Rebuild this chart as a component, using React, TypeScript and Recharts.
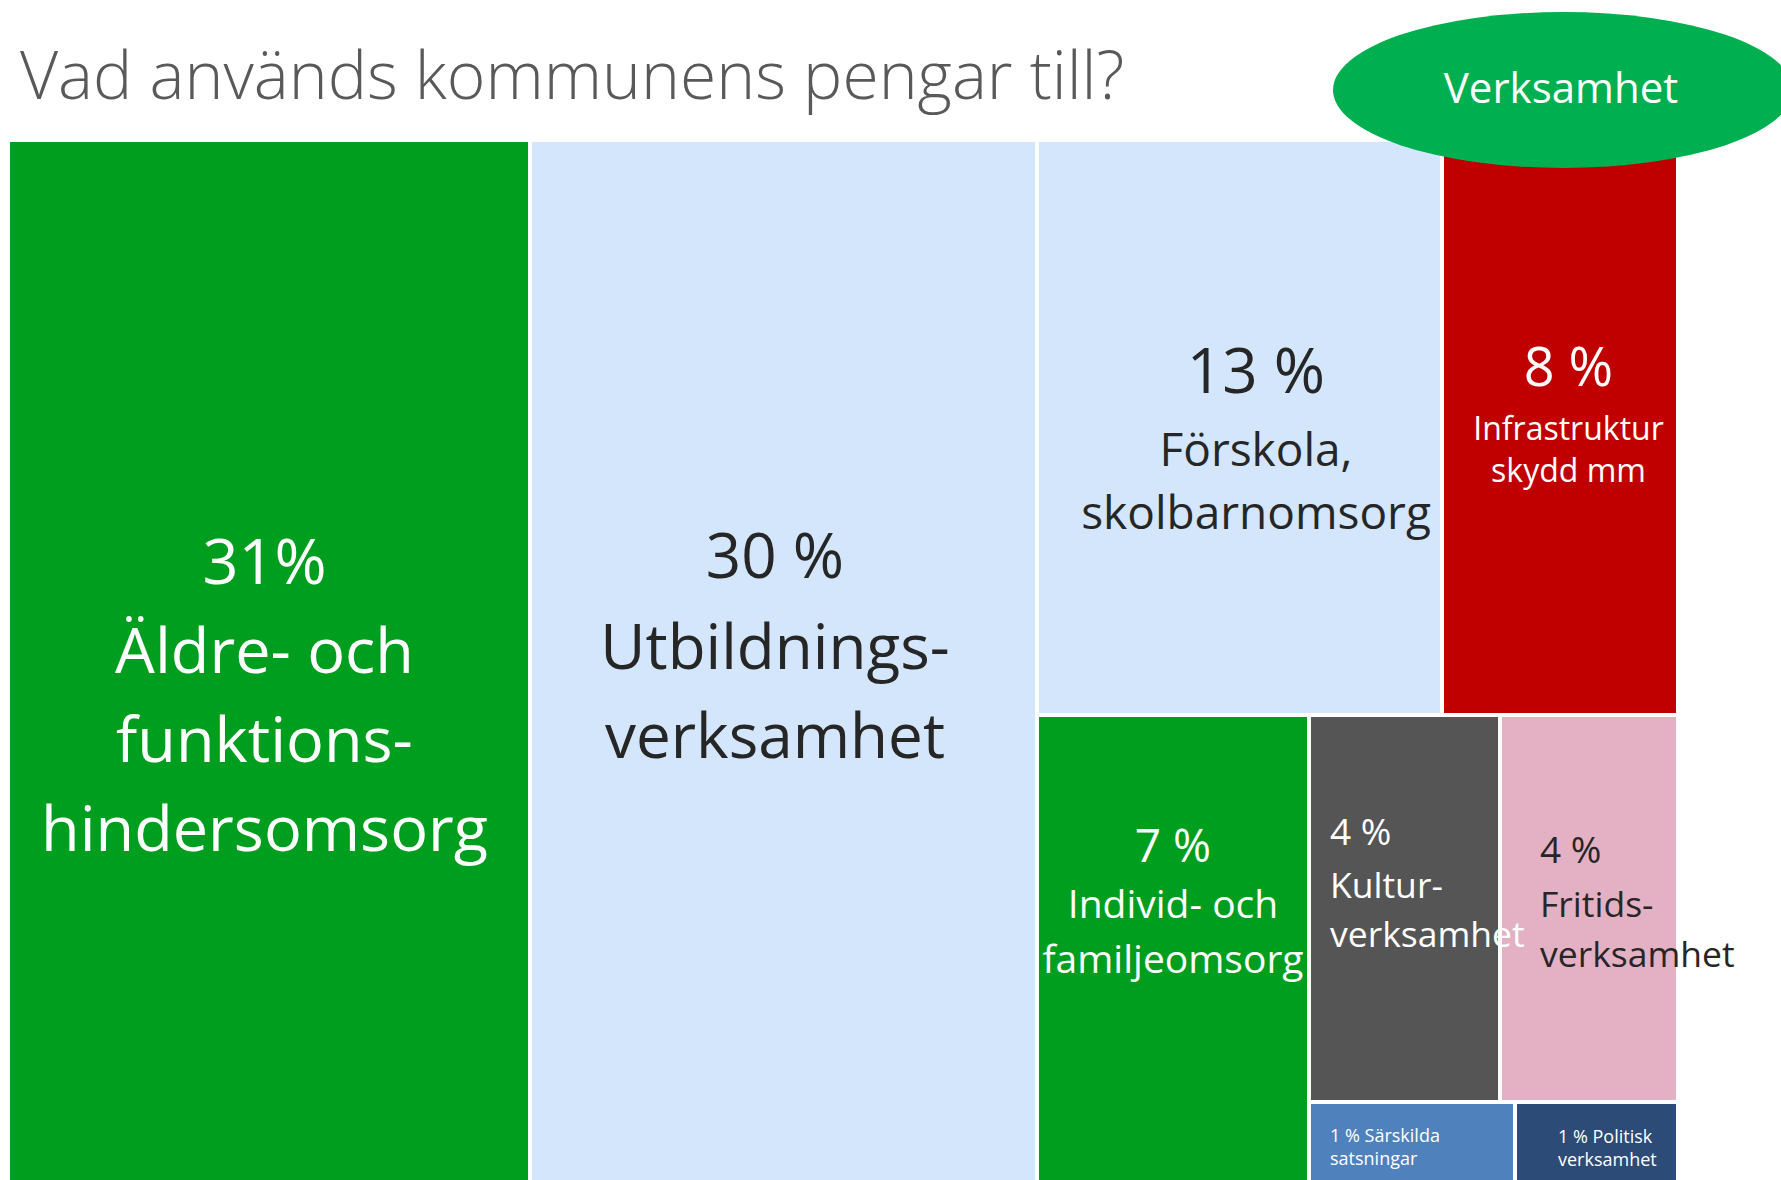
import { Treemap } from 'recharts';

// one entry per cell, in drawing order
const names = ['Äldre', 'Utbildning', 'Förskola', 'Infrastruktur', 'Individ', 'Kultur', 'Fritids', 'Särskilda', 'Politisk'];
const pctLabels = ['31%', '30 %', '13 %', '8 %', '7 %', '4 %', '4 %', '1 %', '1 %'];
// shares behind the cell areas (labels above are rounded)
const shares = [31.3, 30.4, 13.4, 7.8, 7.3, 4.25, 3.95, 0.95, 0.75];
const textLines = [
  ['Äldre- och', 'funktions-', 'hindersomsorg'],
  ['Utbildnings-', 'verksamhet'],
  ['Förskola,', 'skolbarnomsorg'],
  ['Infrastruktur', 'skydd mm'],
  ['Individ- och', 'familjeomsorg'],
  ['Kultur-', 'verksamhet'],
  ['Fritids-', 'verksamhet'],
  ['Särskilda', 'satsningar'],
  ['Politisk', 'verksamhet'],
];
const colors = ['#009e1f', '#d3e6fc', '#d3e6fc', '#c00000', '#009e1f', '#555555', '#e3b1c3', '#4f81bd', '#2c4b76'];

const leaf = (i: number) => ({ name: names[i], value: shares[i], idx: i });

const treeData = [
  leaf(0),
  {
    name: 'rest',
    children: [
      leaf(1),
      {
        name: 'right',
        children: [
          { name: 'top', children: [leaf(2), leaf(3)] },
          {
            name: 'bottom',
            children: [
              leaf(4),
              {
                name: 'small',
                children: [
                  { name: 'kf', children: [leaf(5), leaf(6)] },
                  { name: 'sp', children: [leaf(7), leaf(8)] },
                ],
              },
            ],
          },
        ],
      },
    ],
  },
];

const WHITE = '#ffffff';
const DARK = '#262626';
const FONT = "'Open Sans', 'Noto Sans', sans-serif";

type LabelStyle = {
  anchor: 'middle' | 'start';
  dx: number;
  top: number;
  pct: number;
  size: number;
  gap: number;
  lh: number;
  fill: string;
  inline?: boolean;
};

const labelStyles: LabelStyle[] = [
  { anchor: 'middle', dx: -4.5, top: 444, pct: 63, size: 63, gap: 89, lh: 89, fill: WHITE },
  { anchor: 'middle', dx: -8.5, top: 438, pct: 62, size: 62, gap: 91, lh: 89, fill: DARK },
  { anchor: 'middle', dx: 16.5, top: 253, pct: 62, size: 46, gap: 73, lh: 63, fill: DARK },
  { anchor: 'middle', dx: 8.5, top: 246, pct: 54, size: 32, gap: 54, lh: 42, fill: WHITE },
  { anchor: 'middle', dx: 0, top: 147, pct: 46, size: 39, gap: 56, lh: 55, fill: WHITE },
  { anchor: 'start', dx: 21, top: 130, pct: 37, size: 35.5, gap: 53, lh: 49, fill: WHITE },
  { anchor: 'start', dx: 40, top: 148, pct: 37, size: 35.5, gap: 54, lh: 50, fill: DARK },
  { anchor: 'start', dx: 21, top: 40, pct: 18, size: 18, gap: 0, lh: 23, fill: WHITE, inline: true },
  { anchor: 'start', dx: 43, top: 41, pct: 18, size: 18, gap: 0, lh: 23, fill: WHITE, inline: true },
];

function CellRect(props: any) {
  const { x, y, width, height, idx } = props;
  if (idx === undefined || (props.children && props.children.length)) return null;
  return <rect x={x} y={y} width={width} height={height} fill={colors[idx]} stroke={WHITE} strokeWidth={4} />;
}

function CellLabel(props: any) {
  const { x, y, width, idx } = props;
  if (idx === undefined || (props.children && props.children.length)) return null;
  const s = labelStyles[idx];
  const tx = s.anchor === 'middle' ? x + width / 2 + s.dx : x + s.dx;
  const lines = textLines[idx];
  if (s.inline) {
    return (
      <g fontFamily={FONT} fill={s.fill} textAnchor={s.anchor}>
        <text x={tx} y={y + s.top} fontSize={s.size}>{`${pctLabels[idx]} ${lines[0]}`}</text>
        {lines.slice(1).map((t, i) => (
          <text key={t} x={tx} y={y + s.top + (i + 1) * s.lh} fontSize={s.size}>{t}</text>
        ))}
      </g>
    );
  }
  return (
    <g fontFamily={FONT} fill={s.fill} textAnchor={s.anchor}>
      <text x={tx} y={y + s.top} fontSize={s.pct}>{pctLabels[idx]}</text>
      {lines.map((t, i) => (
        <text key={t} x={tx} y={y + s.top + s.gap + i * s.lh} fontSize={s.size}>{t}</text>
      ))}
    </g>
  );
}

export default function App() {
  return (
    <div style={{ position: 'fixed', left: 0, top: 0, width: 1781, height: 1180, overflow: 'hidden', background: '#fff' }}>
      <style>{'body{margin:0;overflow:hidden} .recharts-surface{overflow:visible}'}</style>
      <div style={{ position: 'absolute', left: 8, top: 140 }}>
        <Treemap
          width={1670}
          height={1042}
          data={treeData}
          dataKey="value"
          aspectRatio={1.095}
          isAnimationActive={false}
          content={CellRect}
        />
      </div>
      <div style={{ position: 'absolute', left: 8, top: 140 }}>
        <Treemap
          width={1670}
          height={1042}
          data={treeData}
          dataKey="value"
          aspectRatio={1.095}
          isAnimationActive={false}
          content={CellLabel}
        />
      </div>
      <svg width={1781} height={1180} style={{ position: 'absolute', left: 0, top: 0, pointerEvents: 'none' }}>
        <text x={20} y={99} fontFamily={FONT} fontSize={66} fontWeight={300} fill="#595959">
          Vad används kommunens pengar till?
        </text>
        <ellipse cx={1563} cy={90} rx={230} ry={78} fill="#00b050" />
        <text x={1561} y={103} fontFamily={FONT} fontSize={42} fill={WHITE} textAnchor="middle">
          Verksamhet
        </text>
      </svg>
    </div>
  );
}
